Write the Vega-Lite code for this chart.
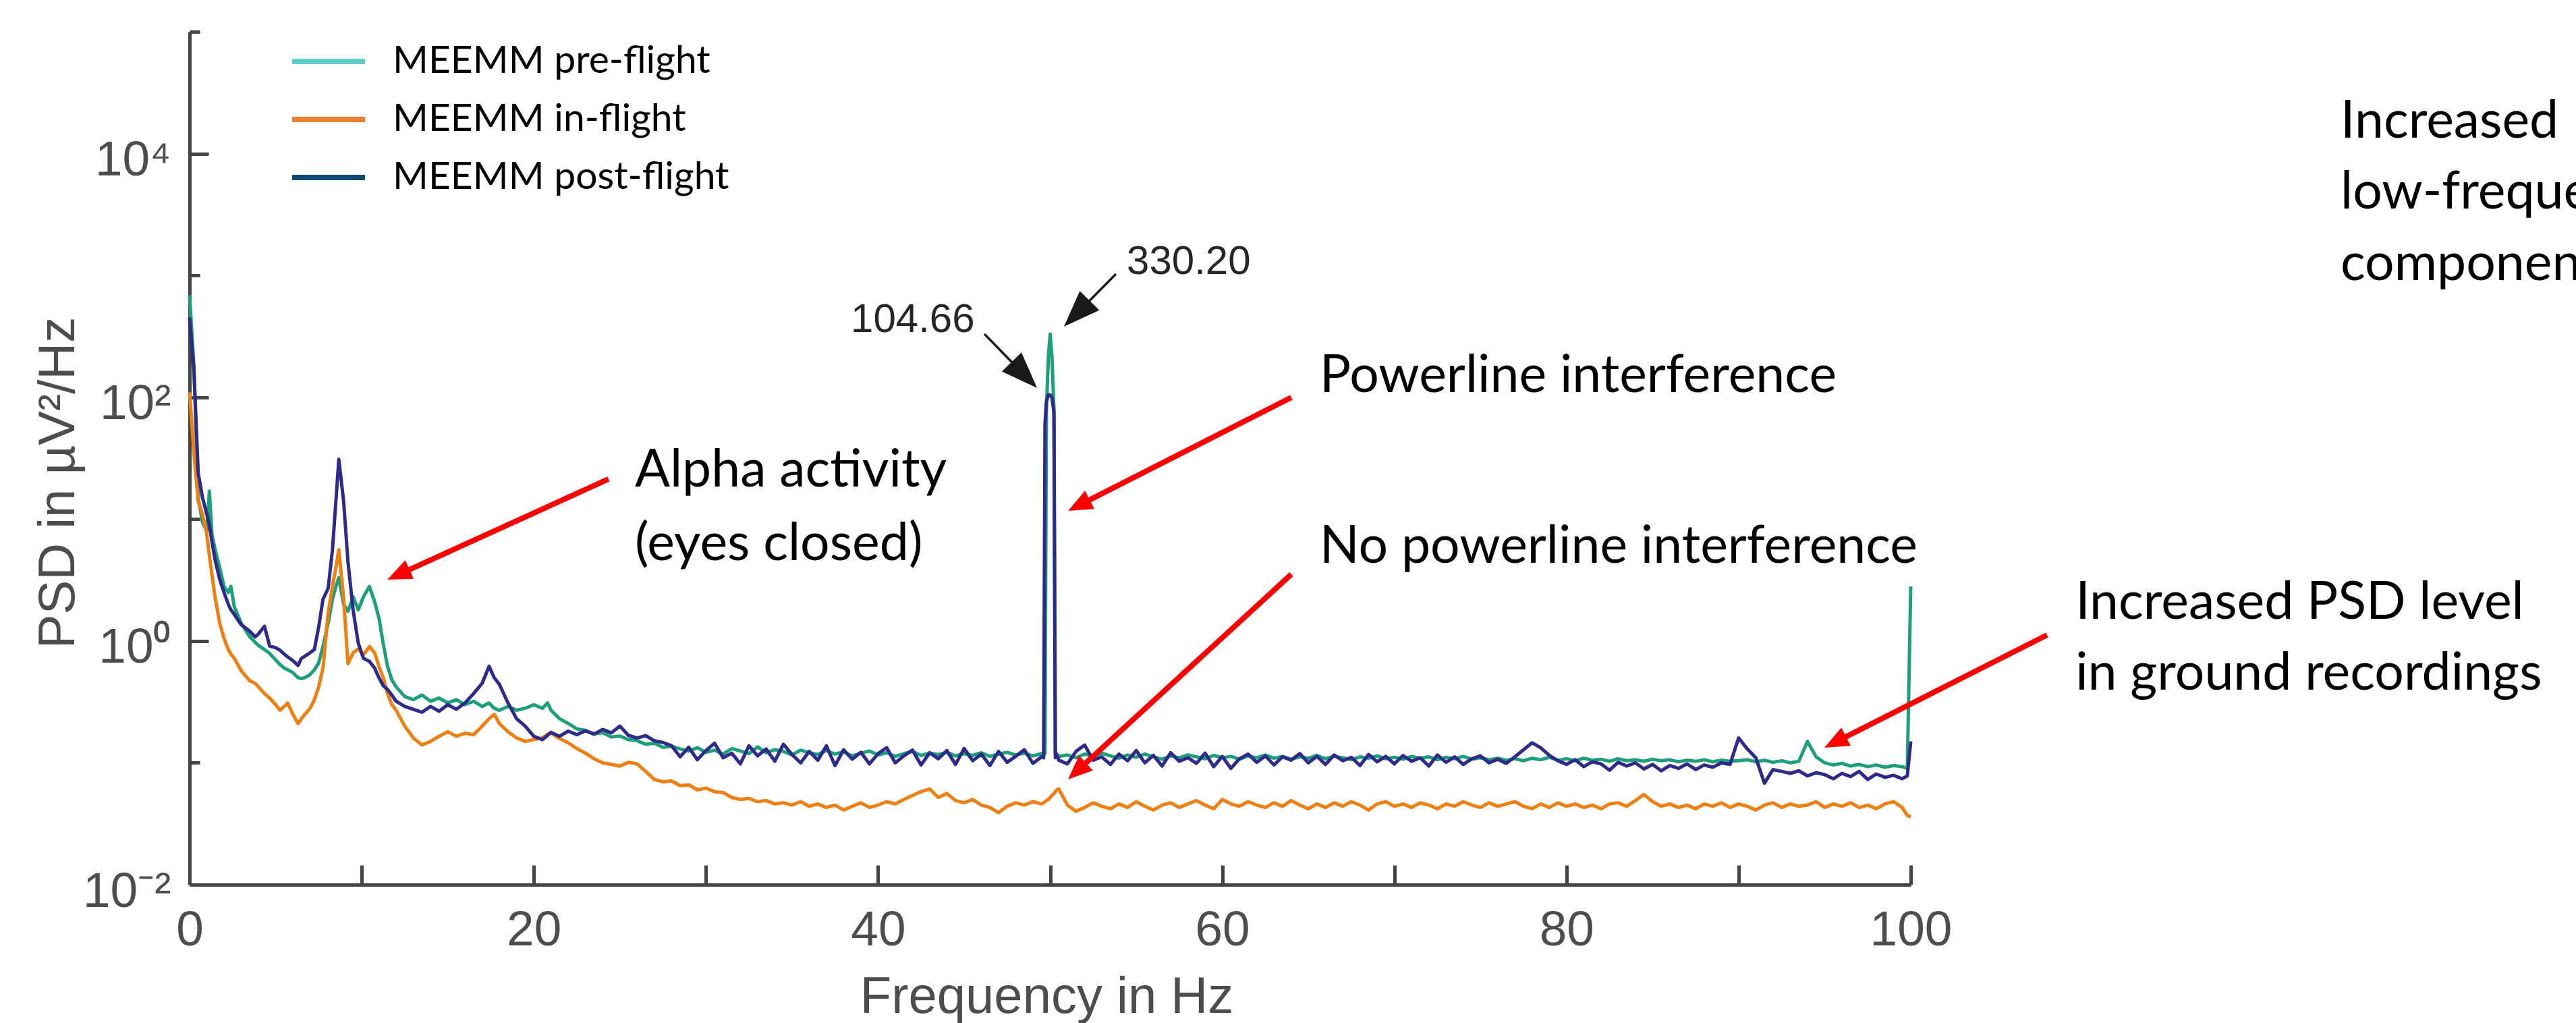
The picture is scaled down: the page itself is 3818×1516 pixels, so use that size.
{
  "$schema": "https://vega.github.io/schema/vega-lite/v6.json",
  "width": 2551,
  "height": 1264,
  "autosize": "none",
  "padding": {"left": 281, "top": 47, "right": 986, "bottom": 205},
  "background": "white",
  "config": {"view": {"stroke": null}, "font": "Liberation Sans"},
  "datasets": {
    "psd": [
      {"f":0,"pre":690,"in":110,"post":450},
      {"f":0.25,"pre":180,"in":35,"post":170},
      {"f":0.5,"pre":15,"in":14,"post":24},
      {"f":0.75,"pre":9.4,"in":11,"post":15},
      {"f":1.0,"pre":8.0,"in":7.5,"post":11},
      {"f":1.15,"pre":17,"in":5.0,"post":9},
      {"f":1.3,"pre":7.5,"in":3.5,"post":6.5},
      {"f":1.5,"pre":5.5,"in":2.2,"post":4.5},
      {"f":1.75,"pre":4.0,"in":1.4,"post":3.2},
      {"f":2.0,"pre":2.8,"in":1.05,"post":2.5},
      {"f":2.25,"pre":2.5,"in":0.85,"post":2.0},
      {"f":2.4,"pre":2.8,"in":0.78,"post":1.8},
      {"f":2.6,"pre":1.9,"in":0.72,"post":1.65},
      {"f":3.0,"pre":1.4,"in":0.57,"post":1.36},
      {"f":3.5,"pre":1.08,"in":0.47,"post":1.2},
      {"f":3.8,"pre":0.98,"in":0.45,"post":1.08},
      {"f":4.0,"pre":0.92,"in":0.42,"post":1.14},
      {"f":4.35,"pre":0.85,"in":0.37,"post":1.32},
      {"f":4.65,"pre":0.79,"in":0.34,"post":0.91},
      {"f":5.0,"pre":0.7,"in":0.3,"post":0.88},
      {"f":5.25,"pre":0.64,"in":0.27,"post":0.84},
      {"f":5.5,"pre":0.6,"in":0.29,"post":0.78},
      {"f":5.7,"pre":0.58,"in":0.31,"post":0.74},
      {"f":6.0,"pre":0.55,"in":0.25,"post":0.69},
      {"f":6.3,"pre":0.5,"in":0.21,"post":0.63},
      {"f":6.5,"pre":0.49,"in":0.23,"post":0.72},
      {"f":6.7,"pre":0.5,"in":0.25,"post":0.75},
      {"f":7.0,"pre":0.53,"in":0.28,"post":0.8},
      {"f":7.25,"pre":0.58,"in":0.33,"post":0.85},
      {"f":7.5,"pre":0.66,"in":0.42,"post":1.3},
      {"f":7.75,"pre":0.9,"in":0.6,"post":2.2},
      {"f":8.05,"pre":1.4,"in":1.7,"post":2.7},
      {"f":8.3,"pre":2.2,"in":2.8,"post":5.6},
      {"f":8.5,"pre":2.8,"in":4.0,"post":14},
      {"f":8.67,"pre":3.3,"in":5.6,"post":31},
      {"f":8.95,"pre":2.0,"in":2.27,"post":14},
      {"f":9.2,"pre":1.75,"in":0.65,"post":4.5},
      {"f":9.5,"pre":2.3,"in":0.8,"post":1.8},
      {"f":9.8,"pre":1.8,"in":0.86,"post":0.96},
      {"f":10.1,"pre":2.3,"in":0.77,"post":0.72},
      {"f":10.45,"pre":2.8,"in":0.9,"post":0.68},
      {"f":10.75,"pre":2.1,"in":0.8,"post":0.6},
      {"f":11.0,"pre":1.55,"in":0.62,"post":0.5},
      {"f":11.25,"pre":0.95,"in":0.5,"post":0.43},
      {"f":11.5,"pre":0.62,"in":0.37,"post":0.4},
      {"f":11.75,"pre":0.48,"in":0.3,"post":0.36},
      {"f":12.0,"pre":0.42,"in":0.27,"post":0.32},
      {"f":12.5,"pre":0.35,"in":0.2,"post":0.29},
      {"f":13.0,"pre":0.33,"in":0.16,"post":0.275},
      {"f":13.5,"pre":0.36,"in":0.14,"post":0.26},
      {"f":14.0,"pre":0.32,"in":0.15,"post":0.29},
      {"f":14.5,"pre":0.34,"in":0.165,"post":0.265},
      {"f":15.0,"pre":0.31,"in":0.18,"post":0.3},
      {"f":15.5,"pre":0.33,"in":0.165,"post":0.275},
      {"f":16.0,"pre":0.3,"in":0.175,"post":0.31},
      {"f":16.5,"pre":0.32,"in":0.17,"post":0.37},
      {"f":17.0,"pre":0.29,"in":0.2,"post":0.45},
      {"f":17.4,"pre":0.31,"in":0.23,"post":0.62},
      {"f":17.7,"pre":0.28,"in":0.25,"post":0.5},
      {"f":18.0,"pre":0.27,"in":0.21,"post":0.44},
      {"f":18.5,"pre":0.29,"in":0.18,"post":0.31},
      {"f":19.0,"pre":0.27,"in":0.16,"post":0.23},
      {"f":19.5,"pre":0.28,"in":0.15,"post":0.2},
      {"f":20.0,"pre":0.3,"in":0.155,"post":0.165},
      {"f":20.5,"pre":0.28,"in":0.16,"post":0.155},
      {"f":20.8,"pre":0.31,"in":0.172,"post":0.168},
      {"f":21.0,"pre":0.27,"in":0.176,"post":0.178},
      {"f":21.5,"pre":0.23,"in":0.158,"post":0.165},
      {"f":22.0,"pre":0.21,"in":0.146,"post":0.182},
      {"f":22.5,"pre":0.19,"in":0.131,"post":0.17},
      {"f":23.0,"pre":0.185,"in":0.12,"post":0.183},
      {"f":23.5,"pre":0.172,"in":0.108,"post":0.172},
      {"f":24.0,"pre":0.177,"in":0.1,"post":0.188},
      {"f":24.5,"pre":0.163,"in":0.097,"post":0.176},
      {"f":25.0,"pre":0.166,"in":0.094,"post":0.2},
      {"f":25.5,"pre":0.155,"in":0.101,"post":0.168},
      {"f":26.0,"pre":0.152,"in":0.098,"post":0.16},
      {"f":26.5,"pre":0.142,"in":0.085,"post":0.167},
      {"f":27.0,"pre":0.145,"in":0.073,"post":0.152},
      {"f":27.5,"pre":0.134,"in":0.07,"post":0.147},
      {"f":28.0,"pre":0.137,"in":0.071,"post":0.138},
      {"f":28.5,"pre":0.13,"in":0.065,"post":0.112},
      {"f":29.0,"pre":0.125,"in":0.066,"post":0.134},
      {"f":29.5,"pre":0.133,"in":0.06,"post":0.106},
      {"f":30.0,"pre":0.122,"in":0.062,"post":0.126},
      {"f":30.5,"pre":0.127,"in":0.058,"post":0.145},
      {"f":31.0,"pre":0.118,"in":0.057,"post":0.11},
      {"f":31.5,"pre":0.131,"in":0.052,"post":0.12},
      {"f":32.0,"pre":0.125,"in":0.05,"post":0.098},
      {"f":32.5,"pre":0.119,"in":0.051,"post":0.138},
      {"f":33.0,"pre":0.135,"in":0.048,"post":0.114},
      {"f":33.5,"pre":0.121,"in":0.049,"post":0.13},
      {"f":34.0,"pre":0.128,"in":0.046,"post":0.103},
      {"f":34.5,"pre":0.124,"in":0.047,"post":0.142},
      {"f":35.0,"pre":0.116,"in":0.045,"post":0.117},
      {"f":35.5,"pre":0.127,"in":0.048,"post":0.1},
      {"f":36.0,"pre":0.121,"in":0.044,"post":0.124},
      {"f":36.5,"pre":0.117,"in":0.046,"post":0.105},
      {"f":37.0,"pre":0.126,"in":0.043,"post":0.138},
      {"f":37.5,"pre":0.118,"in":0.045,"post":0.095},
      {"f":38.0,"pre":0.123,"in":0.041,"post":0.128},
      {"f":38.5,"pre":0.114,"in":0.044,"post":0.107},
      {"f":39.0,"pre":0.12,"in":0.047,"post":0.122},
      {"f":39.5,"pre":0.125,"in":0.043,"post":0.098},
      {"f":40.0,"pre":0.116,"in":0.045,"post":0.119},
      {"f":40.5,"pre":0.121,"in":0.048,"post":0.133},
      {"f":41.0,"pre":0.113,"in":0.046,"post":0.1},
      {"f":41.5,"pre":0.119,"in":0.05,"post":0.114},
      {"f":42.0,"pre":0.124,"in":0.054,"post":0.127},
      {"f":42.5,"pre":0.115,"in":0.058,"post":0.096},
      {"f":43.0,"pre":0.12,"in":0.061,"post":0.121},
      {"f":43.5,"pre":0.117,"in":0.052,"post":0.108},
      {"f":44.0,"pre":0.122,"in":0.056,"post":0.126},
      {"f":44.5,"pre":0.114,"in":0.049,"post":0.097},
      {"f":45.0,"pre":0.119,"in":0.047,"post":0.131},
      {"f":45.5,"pre":0.115,"in":0.05,"post":0.104},
      {"f":46.0,"pre":0.121,"in":0.045,"post":0.118},
      {"f":46.5,"pre":0.113,"in":0.043,"post":0.095},
      {"f":47.0,"pre":0.118,"in":0.039,"post":0.124},
      {"f":47.5,"pre":0.122,"in":0.044,"post":0.101},
      {"f":48.0,"pre":0.116,"in":0.047,"post":0.113},
      {"f":48.5,"pre":0.12,"in":0.045,"post":0.128},
      {"f":49.0,"pre":0.114,"in":0.048,"post":0.099},
      {"f":49.5,"pre":0.119,"in":0.046,"post":0.112},
      {"f":49.62,"pre":0.115,"in":0.047,"post":0.11},
      {"f":49.7,"pre":0.12,"in":0.048,"post":60},
      {"f":49.78,"pre":80,"in":0.049,"post":92},
      {"f":49.9,"pre":220,"in":0.05,"post":104.66},
      {"f":50.0,"pre":330.2,"in":0.052,"post":104.66},
      {"f":50.1,"pre":220,"in":0.054,"post":100},
      {"f":50.22,"pre":80,"in":0.056,"post":75},
      {"f":50.3,"pre":0.12,"in":0.058,"post":0.11},
      {"f":50.38,"pre":0.115,"in":0.06,"post":0.118},
      {"f":50.5,"pre":0.113,"in":0.061,"post":0.105},
      {"f":51.0,"pre":0.116,"in":0.045,"post":0.098},
      {"f":51.5,"pre":0.11,"in":0.04,"post":0.124},
      {"f":52.0,"pre":0.118,"in":0.043,"post":0.14},
      {"f":52.5,"pre":0.113,"in":0.047,"post":0.105},
      {"f":53.0,"pre":0.12,"in":0.044,"post":0.112},
      {"f":53.5,"pre":0.114,"in":0.042,"post":0.097},
      {"f":54.0,"pre":0.109,"in":0.046,"post":0.118},
      {"f":54.5,"pre":0.116,"in":0.043,"post":0.104},
      {"f":55.0,"pre":0.111,"in":0.048,"post":0.126},
      {"f":55.5,"pre":0.118,"in":0.044,"post":0.1},
      {"f":56.0,"pre":0.112,"in":0.041,"post":0.115},
      {"f":56.5,"pre":0.107,"in":0.045,"post":0.094},
      {"f":57.0,"pre":0.114,"in":0.047,"post":0.121},
      {"f":57.5,"pre":0.11,"in":0.043,"post":0.103},
      {"f":58.0,"pre":0.116,"in":0.046,"post":0.11},
      {"f":58.5,"pre":0.112,"in":0.049,"post":0.099},
      {"f":59.0,"pre":0.108,"in":0.045,"post":0.12},
      {"f":59.5,"pre":0.115,"in":0.042,"post":0.093},
      {"f":60.0,"pre":0.11,"in":0.05,"post":0.113},
      {"f":60.5,"pre":0.113,"in":0.046,"post":0.09},
      {"f":61.0,"pre":0.107,"in":0.044,"post":0.108},
      {"f":61.5,"pre":0.114,"in":0.048,"post":0.118},
      {"f":62.0,"pre":0.11,"in":0.045,"post":0.101},
      {"f":62.5,"pre":0.116,"in":0.043,"post":0.114},
      {"f":63.0,"pre":0.109,"in":0.047,"post":0.096},
      {"f":63.5,"pre":0.113,"in":0.044,"post":0.112},
      {"f":64.0,"pre":0.107,"in":0.049,"post":0.105},
      {"f":64.5,"pre":0.112,"in":0.045,"post":0.119},
      {"f":65.0,"pre":0.109,"in":0.042,"post":0.1},
      {"f":65.5,"pre":0.115,"in":0.046,"post":0.113},
      {"f":66.0,"pre":0.108,"in":0.043,"post":0.097},
      {"f":66.5,"pre":0.113,"in":0.047,"post":0.116},
      {"f":67.0,"pre":0.11,"in":0.044,"post":0.104},
      {"f":67.5,"pre":0.106,"in":0.048,"post":0.111},
      {"f":68.0,"pre":0.112,"in":0.045,"post":0.095},
      {"f":68.5,"pre":0.109,"in":0.041,"post":0.117},
      {"f":69.0,"pre":0.114,"in":0.046,"post":0.102},
      {"f":69.5,"pre":0.108,"in":0.048,"post":0.113},
      {"f":70.0,"pre":0.111,"in":0.044,"post":0.098},
      {"f":70.5,"pre":0.107,"in":0.046,"post":0.115},
      {"f":71.0,"pre":0.113,"in":0.043,"post":0.103},
      {"f":71.5,"pre":0.109,"in":0.047,"post":0.11},
      {"f":72.0,"pre":0.112,"in":0.045,"post":0.094},
      {"f":72.5,"pre":0.106,"in":0.042,"post":0.116},
      {"f":73.0,"pre":0.111,"in":0.046,"post":0.101},
      {"f":73.5,"pre":0.108,"in":0.044,"post":0.112},
      {"f":74.0,"pre":0.113,"in":0.048,"post":0.097},
      {"f":74.5,"pre":0.107,"in":0.045,"post":0.108},
      {"f":75.0,"pre":0.11,"in":0.043,"post":0.114},
      {"f":75.5,"pre":0.106,"in":0.047,"post":0.1},
      {"f":76.0,"pre":0.109,"in":0.044,"post":0.107},
      {"f":76.5,"pre":0.105,"in":0.046,"post":0.099},
      {"f":77.0,"pre":0.108,"in":0.048,"post":0.112},
      {"f":77.5,"pre":0.104,"in":0.044,"post":0.128},
      {"f":78.0,"pre":0.109,"in":0.042,"post":0.146},
      {"f":78.5,"pre":0.106,"in":0.046,"post":0.133},
      {"f":79.0,"pre":0.111,"in":0.043,"post":0.115},
      {"f":79.5,"pre":0.105,"in":0.047,"post":0.104},
      {"f":80.0,"pre":0.108,"in":0.044,"post":0.097},
      {"f":80.5,"pre":0.104,"in":0.046,"post":0.106},
      {"f":81.0,"pre":0.109,"in":0.043,"post":0.093},
      {"f":81.5,"pre":0.105,"in":0.045,"post":0.102},
      {"f":82.0,"pre":0.107,"in":0.042,"post":0.098},
      {"f":82.5,"pre":0.103,"in":0.046,"post":0.087},
      {"f":83.0,"pre":0.108,"in":0.047,"post":0.101},
      {"f":83.5,"pre":0.104,"in":0.044,"post":0.094},
      {"f":84.0,"pre":0.106,"in":0.049,"post":0.1},
      {"f":84.5,"pre":0.103,"in":0.055,"post":0.089},
      {"f":85.0,"pre":0.107,"in":0.048,"post":0.097},
      {"f":85.5,"pre":0.104,"in":0.044,"post":0.086},
      {"f":86.0,"pre":0.106,"in":0.046,"post":0.095},
      {"f":86.5,"pre":0.102,"in":0.043,"post":0.09},
      {"f":87.0,"pre":0.105,"in":0.045,"post":0.098},
      {"f":87.5,"pre":0.103,"in":0.042,"post":0.088},
      {"f":88.0,"pre":0.106,"in":0.046,"post":0.096},
      {"f":88.5,"pre":0.102,"in":0.044,"post":0.092},
      {"f":89.0,"pre":0.105,"in":0.047,"post":0.1},
      {"f":89.5,"pre":0.103,"in":0.043,"post":0.097},
      {"f":90.0,"pre":0.104,"in":0.046,"post":0.16},
      {"f":90.5,"pre":0.106,"in":0.044,"post":0.13},
      {"f":91.0,"pre":0.102,"in":0.041,"post":0.11},
      {"f":91.5,"pre":0.105,"in":0.045,"post":0.068},
      {"f":92.0,"pre":0.101,"in":0.047,"post":0.088},
      {"f":92.5,"pre":0.104,"in":0.043,"post":0.085},
      {"f":93.0,"pre":0.1,"in":0.046,"post":0.082},
      {"f":93.5,"pre":0.103,"in":0.044,"post":0.086},
      {"f":94.0,"pre":0.15,"in":0.045,"post":0.078},
      {"f":94.5,"pre":0.112,"in":0.048,"post":0.083},
      {"f":95.0,"pre":0.1,"in":0.043,"post":0.08},
      {"f":95.5,"pre":0.096,"in":0.046,"post":0.074},
      {"f":96.0,"pre":0.099,"in":0.044,"post":0.082},
      {"f":96.5,"pre":0.094,"in":0.047,"post":0.077},
      {"f":97.0,"pre":0.097,"in":0.043,"post":0.085},
      {"f":97.5,"pre":0.093,"in":0.045,"post":0.073},
      {"f":98.0,"pre":0.096,"in":0.042,"post":0.081},
      {"f":98.5,"pre":0.092,"in":0.046,"post":0.076},
      {"f":99.0,"pre":0.095,"in":0.048,"post":0.079},
      {"f":99.5,"pre":0.093,"in":0.043,"post":0.074},
      {"f":99.8,"pre":0.09,"in":0.037,"post":0.078},
      {"f":100.0,"pre":2.8,"in":0.036,"post":0.15}
    ],
    "arrows": [
      {"kind":"red","x":24.34,"y":21.31,"x2":12.13,"y2":3.503,"hx":11.49,"hy":3.187,"angle":245.56},
      {"kind":"red","x":64.01,"y":99.7,"x2":51.67,"y2":12.98,"hx":51.04,"hy":11.70,"angle":243.09},
      {"kind":"red","x":64.01,"y":3.529,"x2":51.56,"y2":0.08544,"hx":51.04,"hy":0.07313,"angle":227.43},
      {"kind":"red","x":107.92,"y":1.120,"x2":95.61,"y2":0.1477,"hx":94.98,"hy":0.1331,"angle":243.16},
      {"kind":"black","x":46.18,"y":330.6,"x2":48.50,"y2":152.4,"hx":49.24,"hy":119.2,"angle":135.73},
      {"kind":"black","x":53.82,"y":1028,"x2":51.55,"y2":485.9,"hx":50.80,"hy":380.4,"angle":224.63}
    ],
    "notes": [
      {"kind":"note","t":"Alpha activity","x":25.87,"y":18.52},
      {"kind":"note","t":"(eyes closed)","x":25.87,"y":4.613},
      {"kind":"note","t":"Powerline interference","x":65.66,"y":110.4},
      {"kind":"note","t":"No powerline interference","x":65.66,"y":4.385},
      {"kind":"note","t":"Increased PSD level","x":109.57,"y":1.521},
      {"kind":"note","t":"in ground recordings","x":109.57,"y":0.3988},
      {"kind":"note","t":"Increased","x":124.97,"y":13513},
      {"kind":"note","t":"low-frequency","x":124.97,"y":3542},
      {"kind":"note","t":"components","x":124.97,"y":917.1},
      {"kind":"value","t":"104.66","x":38.42,"y":343.5},
      {"kind":"value","t":"330.20","x":54.45,"y":1028.2}
    ]
  },
  "layer": [
    {
      "data": {"name": "psd"},
      "transform": [{"fold": ["pre", "in", "post"], "as": ["series", "psd"]}],
      "mark": {"type": "line", "strokeWidth": 0},
      "encoding": {
        "x": {"field": "f", "type": "quantitative", "title": "Frequency in Hz",
          "scale": {"domain": [0, 100], "nice": false, "zero": false},
          "axis": {"values": [0,10,20,30,40,50,60,70,80,90,100],
            "labelExpr": "datum.value % 20 === 0 ? datum.label : ''",
            "grid": false, "tickSize": -29, "tickWidth": 5, "tickColor": "#454545",
            "domainColor": "#454545", "domainWidth": 5,
            "labelFont": "Liberation Sans", "labelFontSize": 73, "labelColor": "#4d4d4d",
            "labelPadding": 60, "labelFlush": false, "labelOverlap": false, "labelBound": false,
            "titleFont": "Liberation Sans", "titleFontSize": 76, "titleFontWeight": "normal", "titleColor": "#4d4d4d",
            "titleX": 1270, "titleY": 189, "titleBaseline": "alphabetic", "titleAlign": "center", "titleAnchor": null}},
        "y": {"field": "psd", "type": "quantitative", "title": "PSD in µV²/Hz",
          "scale": {"type": "log", "domain": [0.01, 100000], "nice": false},
          "axis": {"values": [0.01,0.1,1,10,100,1000,10000,100000],
            "labelExpr": "datum.value === 0.01 ? '10⁻²' : datum.value === 1 ? '10⁰' : datum.value === 100 ? '10²' : datum.value === 10000 ? '10⁴' : ''",
            "grid": false,
            "tickSize": {"condition": {"test": "datum.value === 0.01 || datum.value === 1 || datum.value === 100 || datum.value === 10000", "value": -28}, "value": -15},
            "tickWidth": 5, "tickColor": "#454545",
            "domainColor": "#454545", "domainWidth": 5,
            "labelFont": "Liberation Sans", "labelFontSize": 73, "labelColor": "#4d4d4d",
            "labelPadding": 56, "labelOffset": 10, "labelOverlap": false, "labelBound": false, "labelFlush": false,
            "titleFont": "Liberation Sans", "titleFontSize": 76, "titleFontWeight": "normal", "titleColor": "#4d4d4d",
            "titleAngle": 270, "titleX": -172, "titleY": 668, "titleBaseline": "alphabetic", "titleAlign": "center", "titleAnchor": null}},
        "color": {"field": "series", "type": "nominal",
          "scale": {"domain": ["pre", "in", "post"], "range": ["#5ecfc8", "#ed7d31", "#0c4a73"]},
          "legend": {"orient": "none", "legendX": 148, "legendY": -14, "title": null,
            "symbolType": "stroke", "symbolSize": 11664, "symbolStrokeWidth": 8, "symbolOpacity": 1,
            "labelFont": "Lato", "labelFontSize": 57, "labelColor": "#000000", "labelOffset": 37, "labelLimit": 2000,
            "rowPadding": -44, "padding": 0,
            "labelExpr": "datum.value === 'pre' ? 'MEEMM pre-flight' : datum.value === 'in' ? 'MEEMM in-flight' : 'MEEMM post-flight'"}}
      }
    },
    {
      "data": {"name": "psd"},
      "transform": [{"fold": ["pre", "in", "post"], "as": ["series", "psd"]}, {"filter": "datum.series === 'pre'"}],
      "mark": {"type": "line", "strokeWidth": 5, "strokeJoin": "round", "stroke": "#1d9f7c"},
      "encoding": {
        "x": {"field": "f", "type": "quantitative", "title": "Frequency in Hz", "scale": {"domain": [0, 100], "nice": false, "zero": false}},
        "y": {"field": "psd", "type": "quantitative", "title": "PSD in µV²/Hz", "scale": {"type": "log", "domain": [0.01, 100000], "nice": false}}
      }
    },
    {
      "data": {"name": "psd"},
      "transform": [{"fold": ["pre", "in", "post"], "as": ["series", "psd"]}, {"filter": "datum.series === 'in'"}],
      "mark": {"type": "line", "strokeWidth": 5, "strokeJoin": "round", "stroke": "#f07f12"},
      "encoding": {
        "x": {"field": "f", "type": "quantitative", "title": "Frequency in Hz", "scale": {"domain": [0, 100], "nice": false, "zero": false}},
        "y": {"field": "psd", "type": "quantitative", "title": "PSD in µV²/Hz", "scale": {"type": "log", "domain": [0.01, 100000], "nice": false}}
      }
    },
    {
      "data": {"name": "psd"},
      "transform": [{"fold": ["pre", "in", "post"], "as": ["series", "psd"]}, {"filter": "datum.series === 'post'"}],
      "mark": {"type": "line", "strokeWidth": 5, "strokeJoin": "round", "stroke": "#2e2a8a"},
      "encoding": {
        "x": {"field": "f", "type": "quantitative", "title": "Frequency in Hz", "scale": {"domain": [0, 100], "nice": false, "zero": false}},
        "y": {"field": "psd", "type": "quantitative", "title": "PSD in µV²/Hz", "scale": {"type": "log", "domain": [0.01, 100000], "nice": false}}
      }
    },
    {
      "data": {"name": "arrows"},
      "transform": [{"filter": "datum.kind === 'red'"}],
      "mark": {"type": "rule", "color": "#ff0000", "strokeWidth": 8},
      "encoding": {
        "x": {"field": "x", "type": "quantitative", "title": "Frequency in Hz", "scale": {"domain": [0, 100], "nice": false, "zero": false}},
        "y": {"field": "y", "type": "quantitative", "title": "PSD in µV²/Hz", "scale": {"type": "log", "domain": [0.01, 100000], "nice": false}},
        "x2": {"field": "x2"},
        "y2": {"field": "y2"}
      }
    },
    {
      "data": {"name": "arrows"},
      "transform": [{"filter": "datum.kind === 'black'"}],
      "mark": {"type": "rule", "color": "#1a1a1a", "strokeWidth": 3.5},
      "encoding": {
        "x": {"field": "x", "type": "quantitative", "title": "Frequency in Hz", "scale": {"domain": [0, 100], "nice": false, "zero": false}},
        "y": {"field": "y", "type": "quantitative", "title": "PSD in µV²/Hz", "scale": {"type": "log", "domain": [0.01, 100000], "nice": false}},
        "x2": {"field": "x2"},
        "y2": {"field": "y2"}
      }
    },
    {
      "data": {"name": "arrows"},
      "transform": [{"filter": "datum.kind === 'red'"}],
      "mark": {"type": "point", "shape": "M0,0L-0.42,1L0.42,1Z", "filled": true, "color": "#ff0000", "opacity": 1, "size": 5184, "strokeWidth": 0},
      "encoding": {
        "x": {"field": "hx", "type": "quantitative", "title": "Frequency in Hz", "scale": {"domain": [0, 100], "nice": false, "zero": false}},
        "y": {"field": "hy", "type": "quantitative", "title": "PSD in µV²/Hz", "scale": {"type": "log", "domain": [0.01, 100000], "nice": false}},
        "angle": {"field": "angle", "type": "quantitative", "scale": null}
      }
    },
    {
      "data": {"name": "arrows"},
      "transform": [{"filter": "datum.kind === 'black'"}],
      "mark": {"type": "point", "shape": "M0,0L-0.375,1L0.375,1Z", "filled": true, "color": "#1a1a1a", "opacity": 1, "size": 11664, "strokeWidth": 0},
      "encoding": {
        "x": {"field": "hx", "type": "quantitative", "title": "Frequency in Hz", "scale": {"domain": [0, 100], "nice": false, "zero": false}},
        "y": {"field": "hy", "type": "quantitative", "title": "PSD in µV²/Hz", "scale": {"type": "log", "domain": [0.01, 100000], "nice": false}},
        "angle": {"field": "angle", "type": "quantitative", "scale": null}
      }
    },
    {
      "data": {"name": "notes"},
      "transform": [{"filter": "datum.kind === 'note'"}],
      "mark": {"type": "text", "font": "Lato", "fontSize": 77, "color": "#000000", "align": "left", "baseline": "alphabetic"},
      "encoding": {
        "x": {"field": "x", "type": "quantitative", "title": "Frequency in Hz", "scale": {"domain": [0, 100], "nice": false, "zero": false}},
        "y": {"field": "y", "type": "quantitative", "title": "PSD in µV²/Hz", "scale": {"type": "log", "domain": [0.01, 100000], "nice": false}},
        "text": {"field": "t", "type": "nominal"}
      }
    },
    {
      "data": {"name": "notes"},
      "transform": [{"filter": "datum.kind === 'value'"}],
      "mark": {"type": "text", "font": "Liberation Sans", "fontSize": 60, "color": "#262626", "align": "left", "baseline": "alphabetic"},
      "encoding": {
        "x": {"field": "x", "type": "quantitative", "title": "Frequency in Hz", "scale": {"domain": [0, 100], "nice": false, "zero": false}},
        "y": {"field": "y", "type": "quantitative", "title": "PSD in µV²/Hz", "scale": {"type": "log", "domain": [0.01, 100000], "nice": false}},
        "text": {"field": "t", "type": "nominal"}
      }
    }
  ]
}
